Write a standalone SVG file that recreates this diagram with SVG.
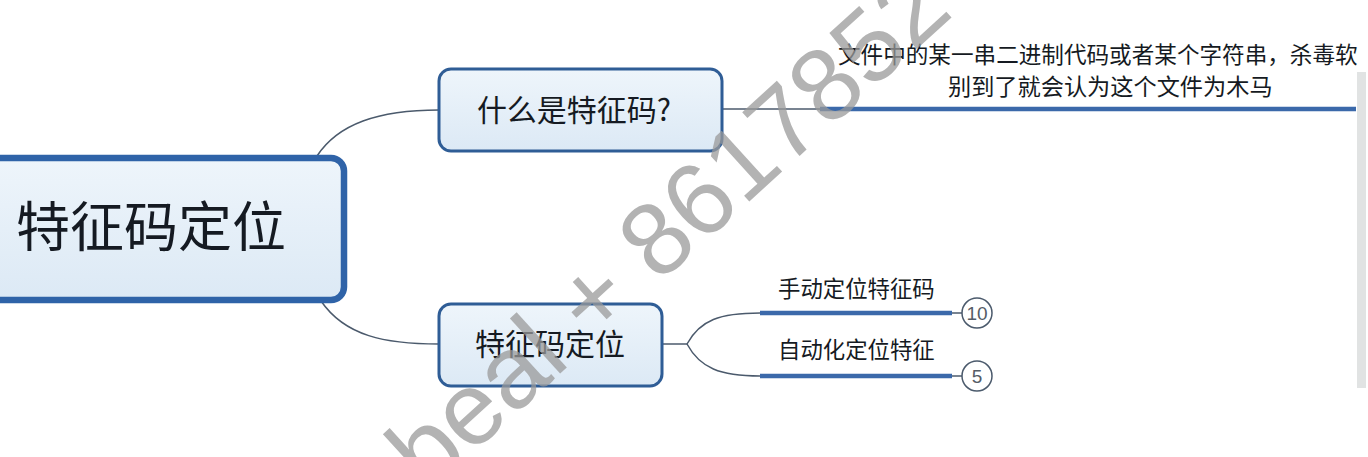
<svg xmlns="http://www.w3.org/2000/svg" width="1368" height="457" viewBox="0 0 1368 457">
  <defs>
    <linearGradient id="nodeFill" x1="0" y1="0" x2="0" y2="1">
      <stop offset="0" stop-color="#eef5fb"/>
      <stop offset="1" stop-color="#dce9f5"/>
    </linearGradient>
    <style>
      .node { fill: url(#nodeFill); stroke: #2f5d96; stroke-width: 3; }
      .root { fill: url(#nodeFill); stroke: #2f63a8; stroke-width: 6.5; }
      .conn { fill: none; stroke: #4b5a6c; stroke-width: 1.5; }
      .bar { fill: none; stroke: #3b69aa; stroke-width: 4.5; }
      .cjk { font-family: "Noto Sans CJK SC", "Noto Sans", sans-serif; fill: #151a22; }
      .badge { fill: #ffffff; stroke: #4b5a6c; stroke-width: 1.5; }
      .num { font-family: "Liberation Sans", Arial, sans-serif; font-size: 19px; fill: #555c66; text-anchor: middle; }
      .mark { font-family: "Liberation Sans", Arial, sans-serif; font-size: 103px; fill: #999999; fill-opacity: 0.75; }
    </style>
  </defs>

  <rect width="1368" height="457" fill="#ffffff"/>

  <!-- connectors -->
  <g id="connectors">
    <path class="conn" d="M317,156 C338,124 378,110 439,110"/>
    <path class="conn" d="M321,301 C345,336 385,344 439,344"/>
    <path class="conn" d="M722,109 L820,109"/>
    <path class="bar" d="M820,109 L1356,109"/>
    <path class="conn" d="M662,344 L687,344"/>
    <path class="conn" d="M687,344 C700,320 720,313 760,313"/>
    <path class="conn" d="M687,344 C700,368 720,376 760,376"/>
    <path class="bar" d="M760,313 L952,313"/>
    <path class="bar" d="M760,376 L952,376"/>
    <path class="conn" d="M952,313 L962,313"/>
    <path class="conn" d="M952,376 L962,376"/>
  </g>

  <!-- central topic -->
  <g id="root">
    <rect class="root" x="-20" y="158" width="364" height="142" rx="13"/>
    <text class="cjk" x="16" y="247" font-size="54" fill="#15213a">特征码定位</text>
  </g>

  <!-- branch: what is a signature -->
  <g id="what-is">
    <rect class="node" x="439" y="69" width="283" height="82" rx="12"/>
    <text class="cjk" x="574" y="121" font-size="30" text-anchor="middle">什么是特征码?</text>
  </g>

  <g id="definition">
    <text class="cjk" x="838" y="63" font-size="22.6">文件中的某一串二进制代码或者某个字符串，杀毒软</text>
    <text class="cjk" x="948" y="95" font-size="23.2">别到了就会认为这个文件为木马</text>
  </g>

  <!-- branch: locating signatures -->
  <g id="locate">
    <rect class="node" x="439" y="304" width="223" height="82" rx="12"/>
    <text class="cjk" x="550" y="355" font-size="30" text-anchor="middle">特征码定位</text>
  </g>

  <g id="manual">
    <text class="cjk" x="778" y="297" font-size="22.4">手动定位特征码</text>
    <circle class="badge" cx="977" cy="313" r="15"/>
    <text class="num" x="977" y="320">10</text>
  </g>

  <g id="auto">
    <text class="cjk" x="778" y="357.5" font-size="22.4">自动化定位特征</text>
    <circle class="badge" cx="977" cy="376" r="15"/>
    <text class="num" x="977" y="383">5</text>
  </g>

  <!-- scrollbar strip at the right edge -->
  <rect x="1357" y="72" width="9" height="316" fill="#e1e3e3"/>

  <!-- diagonal watermark -->
  <text class="mark" transform="translate(428,494) rotate(-42.3)">beal + 8617852</text>
</svg>
